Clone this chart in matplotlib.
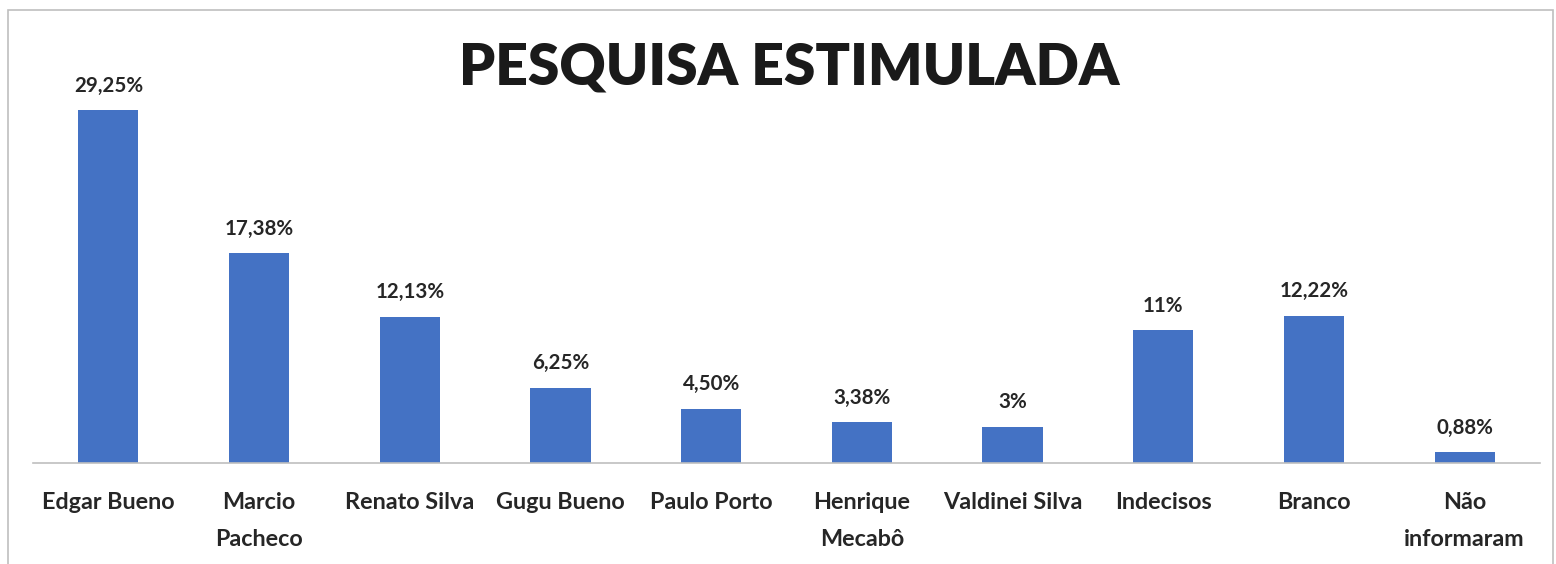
import matplotlib
matplotlib.use("Agg")
import matplotlib.pyplot as plt
from matplotlib.patches import Rectangle

categories = ["Edgar Bueno", "Marcio\nPacheco", "Renato Silva", "Gugu Bueno", "Paulo Porto",
              "Henrique\nMecabô", "Valdinei Silva", "Indecisos", "Branco", "Não\ninformaram"]
values = [29.25, 17.38, 12.13, 6.25, 4.50, 3.38, 3.0, 11.0, 12.22, 0.88]
labels = ["29,25%", "17,38%", "12,13%", "6,25%", "4,50%", "3,38%", "3%", "11%", "12,22%", "0,88%"]

plt.rcParams['font.family'] = ['Lato', 'DejaVu Sans']

fig = plt.figure(figsize=(15.56, 5.64), dpi=100)
ax = fig.add_axes([33/1556, 1 - 463/564, 1507/1556, 422/564])

x = list(range(len(categories)))
ax.bar(x, values, width=0.4, color="#4472C4")
ax.set_xlim(-0.5, len(categories) - 0.5)
ax.set_ylim(0, 35)

for xi, v, lab in zip(x, values, labels):
    ax.annotate(lab, (xi, v), xytext=(0, 10.5), textcoords="offset points",
                ha="center", va="bottom", fontsize=14.8, fontweight="bold", color="#262626")

ax.set_xticks(x)
ax.set_xticklabels(categories, fontsize=16.8, fontweight="bold", color="#262626", linespacing=1.95)
ax.tick_params(axis="x", length=0, pad=21)
ax.set_yticks([])
for s in ["top", "right", "left"]:
    ax.spines[s].set_visible(False)
ax.spines["bottom"].set_color("#BFBFBF")
ax.spines["bottom"].set_linewidth(1.2)
for t in ax.get_xticklabels():
    t.set_verticalalignment("top")

fig.text(789/1556, 1 - 68/564, "PESQUISA ESTIMULADA", ha="center", va="center",
         fontsize=41, fontweight="heavy", color="#1a1a1a")

fig.patches.append(Rectangle((8/1556, -0.05), (1553 - 8)/1556, 1 - 10/564 + 0.05,
                             transform=fig.transFigure, fill=False, edgecolor="#BFBFBF", linewidth=1.2))

fig.savefig("out.png", dpi=100)
